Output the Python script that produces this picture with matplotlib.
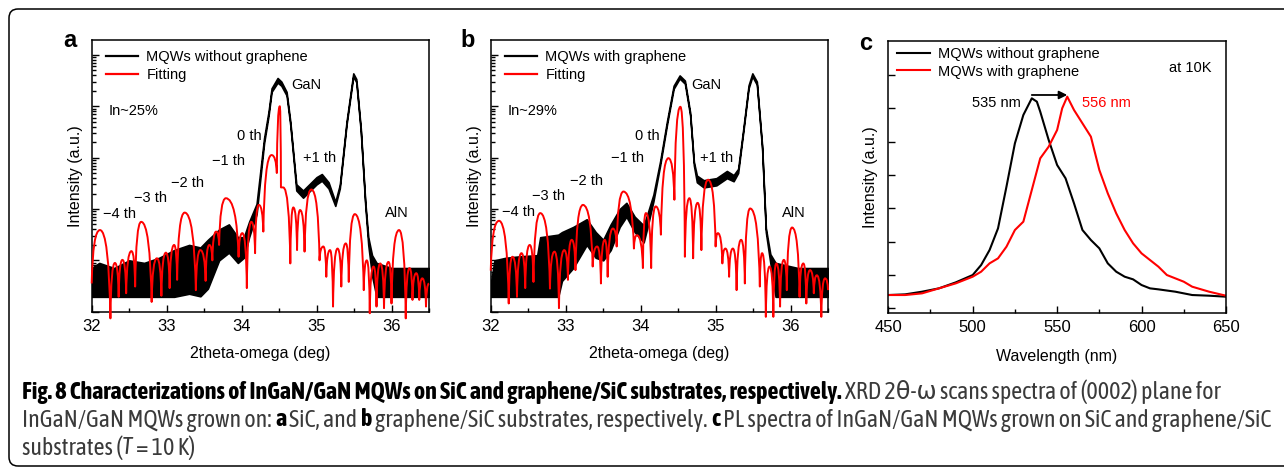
import numpy as np
import matplotlib
matplotlib.use("Agg")
import matplotlib.pyplot as plt
from matplotlib.path import Path
from matplotlib.patches import PathPatch, FancyBboxPatch
from matplotlib.ticker import LogLocator, NullFormatter, MultipleLocator
import matplotlib.transforms as mtransforms
from matplotlib import font_manager as fm

plt.rcParams['font.family'] = ['Liberation Sans', 'DejaVu Sans']

# ---------------- data (intensity given in decades, log10) ----------------
# panel a: MQWs without graphene, noisy band read as lower/upper envelope
a_x = [32.00, 32.10, 32.30, 32.50, 32.70, 32.90, 33.10, 33.30, 33.45, 33.55, 33.70, 33.83,
       33.95, 34.03, 34.10, 34.20, 34.30, 34.36, 34.40, 34.48, 34.53, 34.60, 34.65, 34.70,
       34.73, 34.82, 35.00, 35.07, 35.16, 35.25, 35.31, 35.40, 35.49, 35.53, 35.59, 35.65,
       35.69, 35.74, 35.80, 36.00, 36.20, 36.50]
a_lo = [0.29, 0.29, 0.29, 0.29, 0.29, 0.29, 0.29, 0.35, 0.30, 0.45, 1.00, 1.15,
        0.95, 1.05, 1.45, 1.90, 3.28, 3.82, 4.28, 4.46, 4.40, 4.21, 3.63, 2.85,
        2.36, 2.22, 2.48, 2.55, 2.40, 2.06, 2.40, 3.64, 4.58, 4.47, 3.51, 2.07,
        1.30, 0.70, 0.29, 0.29, 0.29, 0.29]
a_hi = [0.85, 0.95, 0.85, 1.00, 0.95, 1.05, 1.20, 1.30, 1.25, 1.40, 1.60, 1.70,
        1.45, 1.45, 1.75, 2.10, 3.38, 3.90, 4.35, 4.55, 4.48, 4.28, 3.70, 2.93,
        2.48, 2.36, 2.62, 2.68, 2.52, 2.14, 2.47, 3.70, 4.64, 4.53, 3.57, 2.14,
        1.45, 1.10, 0.95, 0.85, 0.85, 0.85]

# panel a fitting: alternating minimum / maximum points
a_fit_x = [32.00, 32.11, 32.25, 32.31, 32.36, 32.41, 32.46, 32.53, 32.58, 32.66,
           32.80, 32.87, 32.93, 32.99, 33.04, 33.10, 33.14, 33.24, 33.39, 33.45,
           33.52, 33.57, 33.61, 33.66, 33.70, 33.79, 33.96, 34.01, 34.07, 34.13,
           34.18, 34.23, 34.29, 34.40, 34.47, 34.51, 34.525, 34.555, 34.65, 34.69,
           34.74, 34.78, 34.84, 34.93, 35.04, 35.09, 35.13, 35.18, 35.22, 35.28,
           35.33, 35.39, 35.43, 35.51, 35.63, 35.67, 35.71, 35.76, 35.80, 35.85,
           35.90, 35.96, 36.00, 36.10, 36.19, 36.24, 36.28, 36.33, 36.37, 36.41,
           36.46, 36.50]
a_fit_d = [0.55, 1.59, -0.13, 0.95, 0.29, 1.01, 0.36, 1.18, 0.49, 1.75,
           0.19, 1.04, 0.31, 1.15, 0.46, 1.30, 0.62, 1.93, 0.42, 1.20,
           0.60, 1.30, 1.00, 1.56, 1.30, 2.21, 1.07, 1.53, 0.46, 1.75,
           1.14, 2.08, 1.56, 3.05, 2.70, 4.00, 2.42, 2.42, 0.94, 2.03,
           1.20, 1.98, 1.17, 2.38, 1.00, 1.27, 0.68, 1.20, 0.10, 1.23,
           0.49, 1.33, 0.58, 1.90, 0.42, 1.00, -0.03, 0.88, 0.10, 0.94,
           0.07, 0.97, 0.16, 1.59, -0.13, 0.85, 0.23, 0.75, 0.23, 0.65,
           0.10, 0.55]

# panel b: MQWs with graphene
b_x = [32.00, 32.05, 32.20, 32.40, 32.62, 32.66, 32.90, 32.95, 33.10, 33.28, 33.40, 33.50,
       33.60, 33.72, 33.81, 33.92, 34.04, 34.10, 34.17, 34.26, 34.35, 34.44, 34.52, 34.59,
       34.66, 34.71, 34.75, 34.84, 35.01, 35.15, 35.24, 35.30, 35.37, 35.44, 35.49, 35.55,
       35.62, 35.67, 35.73, 35.80, 36.10, 36.50]
b_lo = [0.29, 0.29, 0.29, 0.29, 0.29, 0.29, 0.29, 0.60, 0.85, 1.30, 1.05, 1.00,
        1.20, 1.65, 1.85, 1.55, 1.35, 1.70, 2.15, 2.85, 3.63, 4.34, 4.54, 4.44,
        3.82, 2.85, 2.52, 2.42, 2.46, 2.60, 2.54, 2.70, 3.51, 4.35, 4.58, 4.42,
        3.18, 1.55, 0.95, 0.29, 0.29, 0.29]
b_hi = [0.55, 1.00, 1.05, 1.08, 1.10, 1.45, 1.50, 1.55, 1.65, 1.80, 1.55, 1.40,
        1.70, 2.00, 2.12, 1.85, 1.68, 1.95, 2.28, 2.93, 3.70, 4.40, 4.60, 4.50,
        3.88, 2.92, 2.65, 2.56, 2.60, 2.74, 2.66, 2.78, 3.57, 4.41, 4.64, 4.48,
        3.24, 1.63, 1.12, 0.95, 0.85, 0.85]

b_fit_x = [32.00, 32.11, 32.24, 32.29, 32.35, 32.41, 32.46, 32.52, 32.57, 32.66,
           32.79, 32.85, 32.91, 32.98, 33.03, 33.08, 33.13, 33.23, 33.36, 33.42,
           33.47, 33.52, 33.56, 33.63, 33.68, 33.77, 33.91, 33.95, 34.03, 34.07,
           34.14, 34.20, 34.27, 34.37, 34.45, 34.53, 34.59, 34.65, 34.70, 34.76,
           34.81, 34.90, 35.00, 35.03, 35.09, 35.13, 35.18, 35.23, 35.28, 35.34,
           35.39, 35.46, 35.59, 35.62, 35.67, 35.72, 35.77, 35.81, 35.86, 35.91,
           35.95, 36.02, 36.12, 36.17, 36.21, 36.26, 36.31, 36.35, 36.41, 36.46,
           36.50]
b_fit_d = [0.80, 1.77, 0.16, 1.07, 0.29, 1.14, 0.46, 1.30, 0.58, 1.92,
           0.45, 1.17, 0.07, 1.20, 0.62, 1.40, 0.81, 2.08, 0.88, 1.27,
           0.55, 1.40, 0.68, 1.62, 1.27, 2.34, 1.23, 1.49, 0.85, 1.92,
           0.85, 2.05, 1.50, 2.99, 2.18, 3.99, 1.07, 2.21, 1.04, 2.12,
           1.20, 2.57, 1.27, 1.53, 0.94, 1.23, 0.68, 1.23, 0.42, 1.40,
           0.55, 2.01, 0.49, 1.14, -0.10, 0.88, -0.10, 0.94, 0.10, 1.01,
           0.42, 1.64, 0.29, 0.94, 0.16, 0.81, 0.36, 0.71, -0.10, 0.65,
           0.42]

# panel c: PL spectra at 10 K
c_wl_black = [450, 460, 470, 480, 490, 500, 505, 510, 515, 520, 525, 530, 535, 538, 540,
              545, 550, 555, 560, 565, 570, 575, 580, 585, 590, 595, 600, 605, 610, 620,
              630, 640, 650]
c_black = [0.40, 0.42, 0.50, 0.60, 0.78, 1.00, 1.30, 1.75, 2.40, 3.65, 4.95, 5.80, 6.30, 6.20, 5.90,
           5.05, 4.30, 3.90, 3.15, 2.35, 2.05, 1.80, 1.35, 1.10, 0.95, 0.87, 0.70, 0.60, 0.57, 0.50,
           0.40, 0.38, 0.35]
c_wl_red = [450, 460, 470, 480, 490, 500, 505, 510, 515, 520, 525, 530, 535, 540, 545, 550,
            553, 556, 560, 565, 570, 575, 580, 585, 590, 595, 600, 605, 610, 615, 620, 625,
            630, 640, 650]
c_red = [0.40, 0.40, 0.45, 0.60, 0.75, 0.95, 1.10, 1.35, 1.50, 1.85, 2.35, 2.60, 3.55, 4.50, 4.85, 5.35,
         6.00, 6.35, 5.95, 5.55, 5.15, 4.15, 3.45, 2.85, 2.35, 1.95, 1.65, 1.45, 1.25, 1.00, 0.90, 0.80,
         0.65, 0.50, 0.38]

orders = ['\u22124 th', '\u22123 th', '\u22122 th', '\u22121 th', '0 th', '+1 th']
a_order_pos = [(32.37, 1.90), (32.78, 2.21), (33.28, 2.51), (33.82, 2.94), (34.10, 3.42), (35.04, 2.99)]
b_order_pos = [(32.37, 1.95), (32.77, 2.25), (33.28, 2.55), (33.82, 2.99), (34.09, 3.42), (35.01, 2.99)]


def fringe_path(xs, ds, f=0.15):
    # curve through the read minima / maxima, flat at maxima and sharp at minima
    verts = [(xs[0], 10 ** ds[0])]
    codes = [Path.MOVETO]
    for i in range(len(xs) - 1):
        x0, d0, x1, d1 = xs[i], ds[i], xs[i + 1], ds[i + 1]
        if i % 2 == 0:
            cx, cd = x0 + f * (x1 - x0), d1
        else:
            cx, cd = x1 - f * (x1 - x0), d0
        verts += [(cx, 10 ** cd), (x1, 10 ** d1)]
        codes += [Path.CURVE3, Path.CURVE3]
    return Path(verts, codes)


fig = plt.figure(figsize=(12.84, 4.71), dpi=100)

ax_a = fig.add_axes([0.0714, 0.3382, 0.2627, 0.5769])
ax_b = fig.add_axes([0.3822, 0.3382, 0.2627, 0.5769])
ax_c = fig.add_axes([0.6918, 0.3361, 0.2630, 0.5769])


def xrd_panel(ax, x, lo, hi, fx, fd, label, inpct, order_pos, aln_pos):
    ax.set_yscale('log')
    ax.fill_between(x, 10 ** np.array(lo), 10 ** np.array(hi), color='black',
                    lw=1.2, zorder=2)
    ax.plot([], [], color='black', lw=1.6, label=label)
    ax.plot([], [], color='red', lw=1.6, label='Fitting')
    ax.add_patch(PathPatch(fringe_path(fx, fd), fill=False, edgecolor='red', lw=1.4,
                           clip_on=False, zorder=3, joinstyle='round'))
    ax.set_xlim(32, 36.5)
    ax.set_ylim(1, 10 ** 5.29)
    ax.xaxis.set_major_locator(MultipleLocator(1))
    ax.xaxis.set_minor_locator(MultipleLocator(0.5))
    ax.yaxis.set_major_locator(LogLocator(base=10, numticks=20))
    ax.yaxis.set_minor_locator(LogLocator(base=10, subs=np.arange(2, 10), numticks=20))
    ax.yaxis.set_major_formatter(NullFormatter())
    ax.yaxis.set_minor_formatter(NullFormatter())
    ax.set_xlabel('2theta-omega (deg)', fontsize=11.5, labelpad=9)
    ax.set_ylabel('Intensity (a.u.)', fontsize=11.5, labelpad=3)
    for txt, (px, pd) in zip(orders, order_pos):
        ax.text(px, 10 ** pd, txt, fontsize=10.5, ha='center', va='center')
    ax.text(aln_pos[0], 10 ** aln_pos[1], 'AlN', fontsize=10.5, ha='center', va='center')
    ax.text(34.87, 10 ** 4.42, 'GaN', fontsize=10.5, ha='center', va='center')
    ax.text(32.22, 10 ** 3.9, inpct, fontsize=10.5, ha='left', va='center')
    ax.legend(loc='upper left', bbox_to_anchor=(0.043, 0.962), frameon=False, fontsize=10.5,
              handlelength=2.2, handletextpad=0.55, borderpad=0, borderaxespad=0,
              labelspacing=0.25)


xrd_panel(ax_a, a_x, a_lo, a_hi, a_fit_x, a_fit_d, 'MQWs without graphene', 'In~25%',
          a_order_pos, (36.07, 1.93))
xrd_panel(ax_b, b_x, b_lo, b_hi, b_fit_x, b_fit_d, 'MQWs with graphene', 'In~29%',
          b_order_pos, (36.05, 1.93))

ax_c.plot(c_wl_black, c_black, color='black', lw=1.5, label='MQWs without graphene')
ax_c.plot(c_wl_red, c_red, color='red', lw=1.5, label='MQWs with graphene')
ax_c.set_xlim(450, 650)
ax_c.set_ylim(-0.13, 8.02)
ax_c.xaxis.set_major_locator(MultipleLocator(50))
ax_c.xaxis.set_minor_locator(MultipleLocator(25))
ax_c.set_yticks(np.arange(0, 8))
ax_c.set_yticklabels([])
ax_c.set_xlabel('Wavelength (nm)', fontsize=11.5, labelpad=10)
ax_c.set_ylabel('Intensity (a.u.)', fontsize=11.5, labelpad=4)
ax_c.text(628.7, 7.22, 'at 10K', fontsize=10.5, ha='center', va='center')
ax_c.text(514.2, 6.15, '535 nm', fontsize=10.5, ha='center', va='center')
ax_c.text(579.3, 6.15, '556 nm', fontsize=10.5, ha='center', va='center', color='red')
ax_c.annotate('', xy=(556, 6.4), xytext=(535, 6.4),
              arrowprops=dict(arrowstyle='-|>', color='black', lw=1.3, mutation_scale=12,
                              shrinkA=0, shrinkB=0))
ax_c.legend(loc='upper left', bbox_to_anchor=(0.025, 0.978), frameon=False, fontsize=10.5,
            handlelength=2.3, handletextpad=0.55, borderpad=0, borderaxespad=0,
            labelspacing=0.25)

for ax in (ax_a, ax_b, ax_c):
    for s in ax.spines.values():
        s.set_linewidth(1.1)
    ax.tick_params(which='both', direction='in', top=False, right=False, width=1.0,
                   labelsize=12)
    ax.tick_params(which='major', length=5)
    ax.tick_params(which='minor', length=3)
    ax.tick_params(axis='x', pad=5)

for lab, xp, yp in (('a', 0.0545, 0.915), ('b', 0.3645, 0.915), ('c', 0.6745, 0.9087)):
    fig.text(xp, yp, lab, fontsize=17, fontweight='bold', ha='center', va='center')

# ---------------- frame and caption ----------------
ident = mtransforms.IdentityTransform()
fig.add_artist(FancyBboxPatch((9, 5), 1290, 457, boxstyle='round,pad=0,rounding_size=9',
                              transform=ident, fill=False, edgecolor='black', lw=1.1))

# a condensed face with a bold weight, if one is installed
weights = {}
for f in fm.fontManager.ttflist:
    if 'Narrow' in f.name or 'Condensed' in f.name:
        w = f.weight if isinstance(f.weight, int) else (700 if f.weight == 'bold' else 400)
        weights.setdefault(f.name, set()).add(w)
cap_fam = 'DejaVu Sans'
for name, ws in sorted(weights.items()):
    if max(ws) >= 600 and min(ws) <= 500:
        cap_fam = name
        break
cap_fams = [cap_fam, 'DejaVu Sans']

B, R, I = ('bold', 'normal'), ('normal', 'normal'), ('normal', 'italic')
cap_lines = [
    (79, [('Fig. 8 Characterizations of InGaN/GaN MQWs on SiC and graphene/SiC substrates, respectively.', B, False),
          ('XRD 2\u03b8-\u03c9 scans spectra of (0002) plane for', R, True)]),
    (51, [('InGaN/GaN MQWs grown on:', R, False), ('a', B, True), ('SiC, and', R, True),
          ('b', B, True), ('graphene/SiC substrates, respectively.', R, True), ('c', B, True),
          ('PL spectra of InGaN/GaN MQWs grown on SiC and graphene/SiC', R, True)]),
    (23, [('substrates (', R, False), ('T', I, False), ('= 10 K)', R, True)]),
]

renderer = fig.canvas.get_renderer()


def draw_caption(size):
    arts = []
    t1 = fig.text(0, 0, 'aa', fontsize=size, family=cap_fams, transform=ident)
    t2 = fig.text(0, 0, 'a a', fontsize=size, family=cap_fams, transform=ident)
    sp = t2.get_window_extent(renderer).width - t1.get_window_extent(renderer).width
    t1.remove()
    t2.remove()
    ends = []
    for y, segs in cap_lines:
        x = 22
        for txt, (wt, st), gap in segs:
            if gap:
                x += sp
            t = fig.text(x, y, txt, transform=ident, fontsize=size, fontweight=wt, fontstyle=st,
                         family=cap_fams, ha='left', va='center',
                         color='black' if wt == 'bold' else '#3a3a3a')
            x = t.get_window_extent(renderer).x1
            arts.append(t)
        ends.append(x)
    return arts, ends


arts, ends = draw_caption(12)
for t in arts:
    t.remove()
size = 12 * (1275 - 22) / (max(ends[0], ends[1]) - 22)
draw_caption(size)

fig.savefig('out.png', dpi=100)
